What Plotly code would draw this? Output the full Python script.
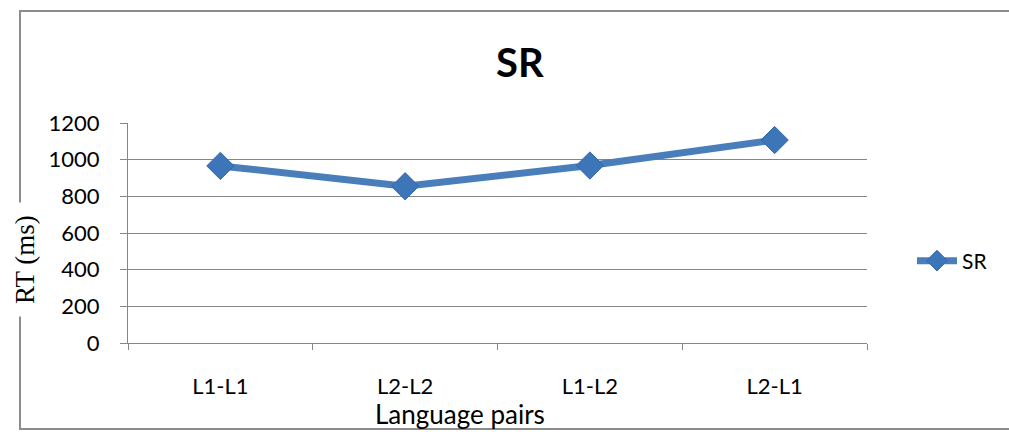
import plotly.graph_objects as go

categories = ["L1-L1", "L2-L2", "L1-L2", "L2-L1"]
sr_values = [966, 855, 968, 1107]
y_ticks = [0, 200, 400, 600, 800, 1000, 1200]

W, H = 1009, 432
L, R, T, B = 128, 867, 123, 343
pw, ph = R - L, B - T

def px(x):
    return (x - L) / pw

def py(y):
    return (B - y) / ph

fig = go.Figure()
fig.add_trace(go.Scatter(
    x=categories, y=sr_values, name="SR", mode="lines+markers",
    line=dict(color="#4A7EBB", width=7),
    marker=dict(symbol="diamond", size=21, color="#3D75B9",
                line=dict(color="#3568A8", width=1)),
))

fig.update_layout(
    width=W, height=H,
    margin=dict(l=L, r=W - R, t=T, b=H - B, pad=0),
    paper_bgcolor="white", plot_bgcolor="white",
    font=dict(family="Lato, Open Sans, sans-serif", color="black", size=20),
    showlegend=True,
    legend=dict(x=px(912), y=py(261), xanchor="left", yanchor="middle",
                font=dict(size=21, family="Lato"), bgcolor="rgba(0,0,0,0)",
                itemwidth=40),
)
fig.update_xaxes(
    type="category", range=[-0.5, 3.5],
    showline=True, linecolor="#868686", linewidth=1,
    ticks="outside", tickson="boundaries", ticklen=6, tickcolor="#868686",
    showgrid=False, tickfont=dict(size=22), ticklabelstandoff=24,
)
fig.update_yaxes(
    range=[0, 1200], tickvals=y_ticks,
    showline=True, linecolor="#868686", linewidth=1,
    ticks="outside", ticklen=7, tickcolor="#868686",
    showgrid=True, gridcolor="#868686", gridwidth=1, zeroline=False,
    tickfont=dict(size=22), ticklabelstandoff=16,
)

fig.add_shape(type="rect", xref="paper", yref="paper",
              x0=px(20), x1=px(1013), y0=py(429), y1=py(11),
              line=dict(color="#8c8c8c", width=2), layer="below")

fig.add_annotation(text="<b>SR</b>", xref="paper", yref="paper",
                   x=px(520), y=py(62), xanchor="center", yanchor="middle",
                   showarrow=False, font=dict(size=40, family="Lato"))
fig.add_annotation(text="RT (ms)", xref="paper", yref="paper",
                   x=px(25), y=py(260), xanchor="center", yanchor="middle",
                   showarrow=False, textangle=-90, bgcolor="white", borderpad=12,
                   font=dict(size=27, family="Liberation Serif"))
fig.add_annotation(text="Language pairs", xref="paper", yref="paper",
                   x=px(460), y=py(414), xanchor="center", yanchor="middle",
                   showarrow=False, borderpad=0,
                   font=dict(size=26, family="Lato"))

fig.write_html("out.html", config={"displayModeBar": False},
               post_script="document.body.style.margin='0';document.body.style.overflow='hidden';")
